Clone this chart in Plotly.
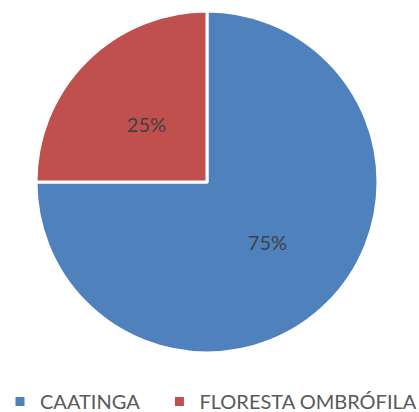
import plotly.graph_objects as go

categories = ["CAATINGA", "FLORESTA OMBRÓFILA"]
values = [75, 25]
colors = ["#4F81BD", "#C0504D"]

W, H = 419, 412
NB = "\u00a0"

# legend spacing like the reference (invisible trailing padding on the first entry)
legend_labels = [categories[0] + NB * 3, categories[1]]

fig = go.Figure(go.Pie(
    labels=legend_labels,
    values=values,
    sort=False,
    direction="clockwise",
    rotation=0,
    marker=dict(colors=colors, line=dict(color="white", width=3)),
    texttemplate=["%{percent:.0%}", NB + "<br>" + NB * 4 + "%{percent:.0%}"],
    textposition="inside",
    insidetextorientation="horizontal",
    textfont=dict(family="Lato, Open Sans, sans-serif", size=20, color="#404040"),
    domain=dict(x=[36 / W, 378 / W], y=[(H - 353) / H, (H - 11) / H]),
    hoverinfo="skip",
))

fig.update_layout(
    width=W, height=H,
    margin=dict(l=0, r=0, t=0, b=0, autoexpand=False),
    paper_bgcolor="white",
    plot_bgcolor="white",
    showlegend=True,
    legend=dict(
        orientation="h",
        x=0.0, xanchor="left",
        y=(H - 382) / H, yanchor="top",
        font=dict(family="Lato, Open Sans, sans-serif", size=20, color="#595959"),
        tracegroupgap=0,
    ),
)

fig.write_html(
    "out.html",
    config={"displayModeBar": False},
    post_script="document.body.style.margin='0px';document.body.style.overflow='hidden';",
)
